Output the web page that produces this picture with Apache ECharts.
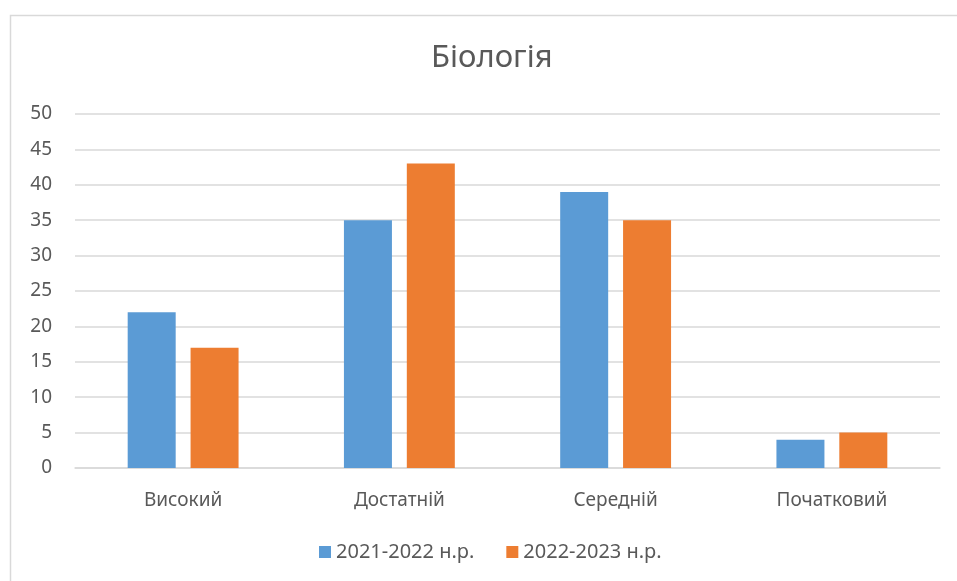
<!DOCTYPE html>
<html lang="uk" style="height: 100%">
<head>
  <meta charset="utf-8">
</head>
<body style="height: 100%; margin: 0">
  <div id="container" style="width: 957px; height: 581px"></div>
  <script type="text/javascript" src="https://fastly.jsdelivr.net/npm/echarts@6/dist/echarts.min.js"></script>
  <script type="text/javascript">
    var categories = ['Високий', 'Достатній', 'Середній', 'Початковий'];
    var seriesNames = ['2021-2022 н.р.', '2022-2023 н.р.'];
    var values2021 = [22, 35, 39, 4];
    var values2022 = [17, 43, 35, 5];
    var yTicks = [0, 50, 5];

    var dom = document.getElementById('container');
    var myChart = echarts.init(dom, null, { renderer: 'canvas' });
    var textColor = '#595959';
    var font = 'Noto Sans';

    var option = {
      backgroundColor: '#fff',
      animation: false,
      title: {
        text: 'Біологія',
        left: 426,
        top: 38,
        textStyle: { fontFamily: font, fontSize: 31, fontWeight: 'normal', color: textColor }
      },
      graphic: [{
        type: 'rect',
        shape: { x: 10.5, y: 15.5, width: 960, height: 600 },
        style: { fill: 'none', stroke: '#d9d9d9', lineWidth: 1.5 },
        silent: true
      }],
      legend: {
        bottom: 14,
        left: 314,
        itemWidth: 12,
        itemHeight: 12,
        itemGap: 32,
        icon: 'rect',
        textStyle: { fontFamily: font, fontSize: 20, color: textColor },
        data: seriesNames
      },
      grid: { left: 75, right: 17, top: 114, bottom: 113 },
      xAxis: {
        type: 'category',
        data: categories,
        axisTick: { show: false },
        axisLine: { lineStyle: { color: '#d9d9d9', width: 1.5 } },
        axisLabel: { fontFamily: font, fontSize: 19, color: textColor, margin: 23 }
      },
      yAxis: {
        type: 'value',
        min: yTicks[0],
        max: yTicks[1],
        interval: yTicks[2],
        axisLine: { show: false },
        axisTick: { show: false },
        splitLine: { lineStyle: { color: '#d9d9d9', width: 1.5 } },
        axisLabel: { fontFamily: font, fontSize: 19, color: textColor, margin: 23 }
      },
      series: [
        {
          name: seriesNames[0],
          type: 'bar',
          data: values2021,
          barWidth: 48,
          barGap: '31%',
          itemStyle: { color: '#5b9bd5' }
        },
        {
          name: seriesNames[1],
          type: 'bar',
          data: values2022,
          barWidth: 48,
          itemStyle: { color: '#ed7d31' }
        }
      ]
    };
    myChart.setOption(option);
    window.addEventListener('resize', myChart.resize);
  </script>
</body>
</html>
